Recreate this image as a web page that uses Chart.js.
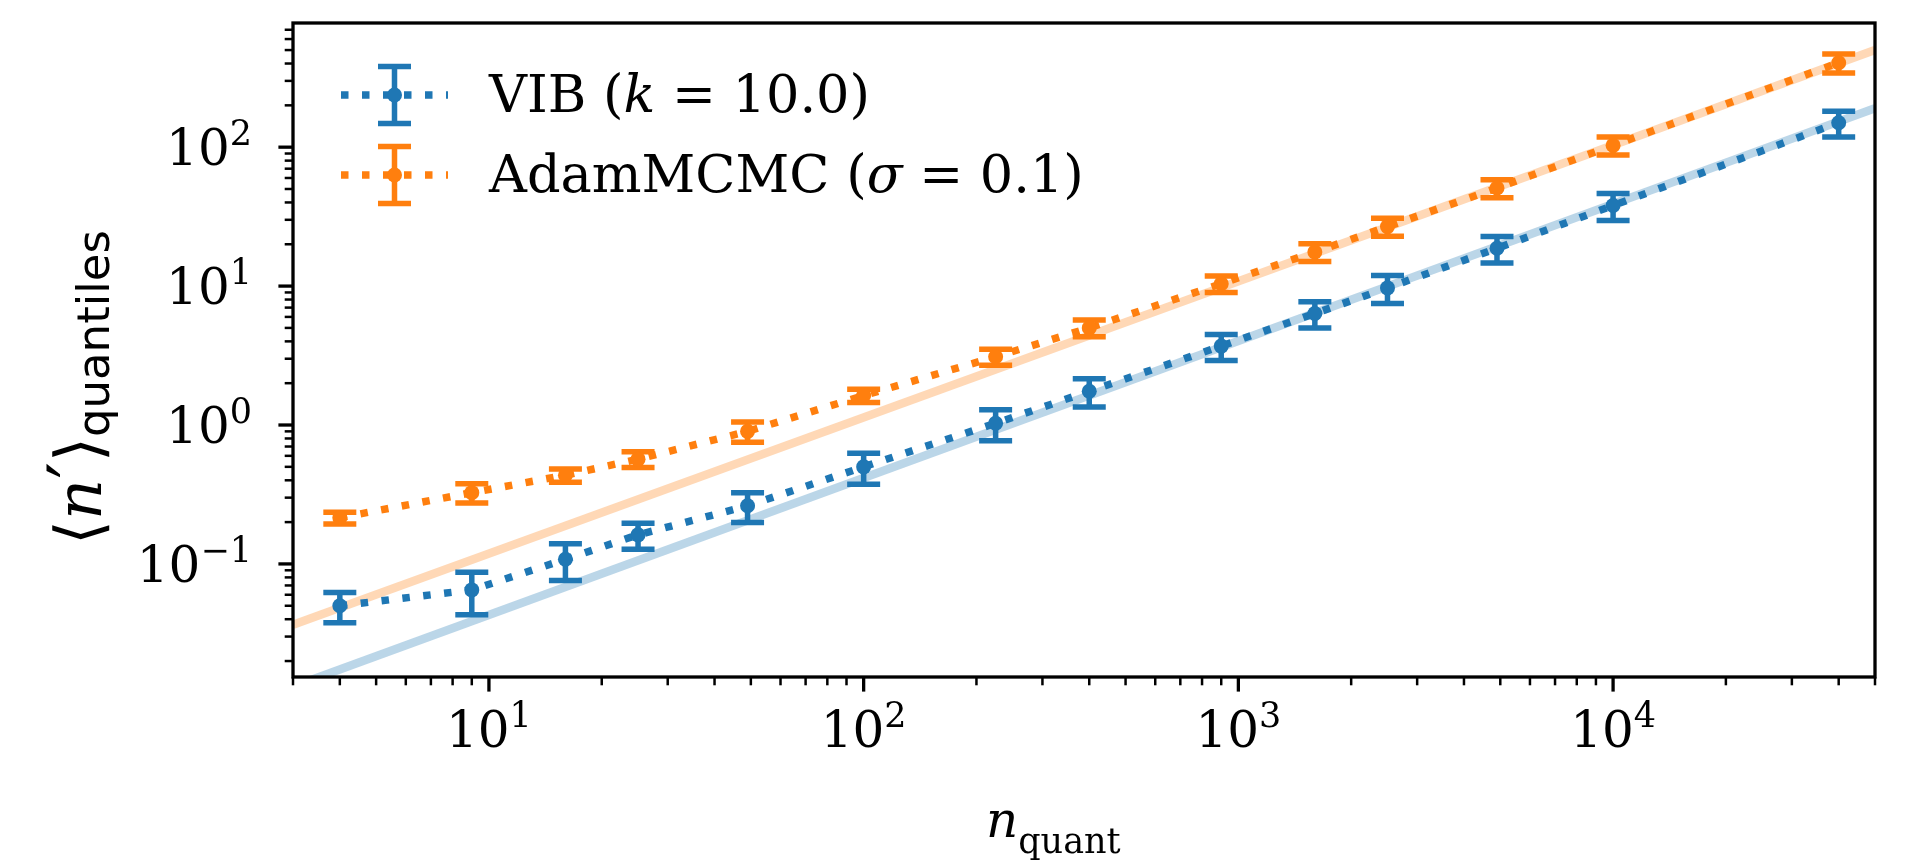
<!DOCTYPE html>
<html><head><meta charset="utf-8">
<script src="https://cdn.jsdelivr.net/npm/chart.js@4.4.1/dist/chart.umd.min.js"></script>
<style>html,body{margin:0;padding:0;background:#fff}#wrap{width:1905px;height:862px;position:relative}</style>
</head><body><div id="wrap"><canvas id="c"></canvas></div>
<script>
// ---- data ----
const nQuant   = [4, 9, 16, 25, 49, 100, 225, 400, 900, 1600, 2500, 4900, 10000, 40000];
const vibMean  = [0.050, 0.065, 0.108, 0.162, 0.262, 0.50, 1.03, 1.75, 3.7, 6.35, 9.7, 18.7, 38, 150];
const vibErr   = [0.0123, 0.022, 0.032, 0.0345, 0.063, 0.126, 0.26, 0.40, 0.79, 1.35, 2.2, 4.05, 8.3, 31.5];
const adamMean = [0.215, 0.326, 0.435, 0.568, 0.90, 1.63, 3.10, 5.0, 10.4, 17.6, 26.8, 50.8, 103, 405];
const adamErr  = [0.021, 0.052, 0.047, 0.073, 0.149, 0.178, 0.405, 0.69, 1.42, 2.55, 3.95, 7.55, 15.3, 63.5];
const fitX     = [3, 50000];
const vibFit   = [0.0131, 191];
const adamFit  = [0.0365, 501];
const xTickExps = [1, 2, 3, 4];
const yTickExps = [-1, 0, 1, 2];
const legendParts = [
  ['VIB (', 'k', ' = 10.0)'],
  ['AdamMCMC (', 'σ', ' = 0.1)']
];
const xLimits = [3, 50000];
const yLimits = [0.01535, 783];

const BLUE = '#1f77b4', ORANGE = '#ff7f0e';
const SERIF = '"DejaVu Serif", serif', SANS = '"DejaVu Sans", sans-serif';

function drawRuns(ctx, runs, x, y) {
  for (const r of runs) {
    ctx.font = r.font;
    ctx.fillText(r.text, x, y + (r.dy || 0));
    x += ctx.measureText(r.text).width;
  }
  return x;
}
function runsWidth(ctx, runs) {
  let w = 0;
  for (const r of runs) { ctx.font = r.font; w += ctx.measureText(r.text).width; }
  return w;
}
function powRuns(e) {
  const s = e < 0 ? '\u2212' + Math.abs(e) : String(e);
  return [{text: '10', font: '50px ' + SERIF}, {text: s, font: '35px ' + SERIF, dy: -20}];
}

const errorBars = {
  id: 'errorBars',
  beforeDatasetDraw(chart, args) {
    const ds = chart.data.datasets[args.index];
    if (!ds.errors) return;
    const ctx = chart.ctx, xs = chart.scales.x, ys = chart.scales.y;
    ctx.save();
    ctx.strokeStyle = ds.borderColor; ctx.lineWidth = 5.5; ctx.lineCap = 'butt'; ctx.setLineDash([]);
    ds.data.forEach((p, i) => {
      const e = ds.errors[i];
      const px = xs.getPixelForValue(p.x);
      const yT = ys.getPixelForValue(p.y + e), yB = ys.getPixelForValue(p.y - e);
      ctx.beginPath();
      ctx.moveTo(px, yT); ctx.lineTo(px, yB);
      ctx.moveTo(px - 16.5, yT); ctx.lineTo(px + 16.5, yT);
      ctx.moveTo(px - 16.5, yB); ctx.lineTo(px + 16.5, yB);
      ctx.stroke();
    });
    ctx.restore();
  }
};

const axesDeco = {
  id: 'axesDeco',
  afterDraw(chart) {
    const ctx = chart.ctx, ca = chart.chartArea, xs = chart.scales.x, ys = chart.scales.y;
    ctx.save();
    ctx.fillStyle = '#000'; ctx.strokeStyle = '#000';
    // spines
    ctx.lineWidth = 3.3;
    ctx.strokeRect(ca.left, ca.top, ca.right - ca.left, ca.bottom - ca.top);
    // x ticks
    for (let e = 0; e <= 4; e++) {
      for (let m = 1; m <= 9; m++) {
        const v = m * Math.pow(10, e);
        if (v < xLimits[0] - 1e-9 || v > xLimits[1] + 1e-9) continue;
        const px = xs.getPixelForValue(v);
        const major = m === 1;
        ctx.lineWidth = major ? 3.3 : 2.5;
        ctx.beginPath(); ctx.moveTo(px, ca.bottom); ctx.lineTo(px, ca.bottom + (major ? 14.6 : 8.3)); ctx.stroke();
      }
    }
    // y ticks
    for (let e = -2; e <= 2; e++) {
      for (let m = 1; m <= 9; m++) {
        const v = m * Math.pow(10, e);
        if (v < yLimits[0] || v > yLimits[1]) continue;
        const py = ys.getPixelForValue(v);
        const major = m === 1;
        ctx.lineWidth = major ? 3.3 : 2.5;
        ctx.beginPath(); ctx.moveTo(ca.left, py); ctx.lineTo(ca.left - (major ? 14.6 : 8.3), py); ctx.stroke();
      }
    }
    // x tick labels
    ctx.textAlign = 'left'; ctx.textBaseline = 'alphabetic';
    for (const e of xTickExps) {
      const px = xs.getPixelForValue(Math.pow(10, e));
      const runs = powRuns(e);
      const w = runsWidth(ctx, runs);
      drawRuns(ctx, runs, px - w / 2, ca.bottom + 70);
    }
    // y tick labels
    for (const e of yTickExps) {
      const py = ys.getPixelForValue(Math.pow(10, e));
      const runs = powRuns(e);
      const w = runsWidth(ctx, runs);
      drawRuns(ctx, runs, 252 - w, py + 18.2);
    }
    // x axis title
    drawRuns(ctx, [
      {text: 'n', font: 'italic 50px ' + SERIF},
      {text: 'quant', font: '35px ' + SERIF, dy: 16}
    ], 986, 837);
    // y axis title (rotated)
    ctx.save();
    ctx.translate(101, 545);
    ctx.rotate(-Math.PI / 2);
    drawRuns(ctx, [
      {text: '\u27E8', font: '64px ' + SERIF},
      {text: 'n', font: 'italic 64px ' + SERIF},
      {text: '\u2032', font: '74px ' + SERIF},
      {text: '\u27E9', font: '64px ' + SERIF},
      {text: 'quantiles', font: '45px ' + SANS, dy: 8}
    ], 0, 0);
    ctx.restore();
    // legend
    const rows = [{y: 95, base: 112, c: BLUE}, {y: 175, base: 192, c: ORANGE}];
    rows.forEach((r, i) => {
      const x0 = 341, x1 = 448, xc = (x0 + x1) / 2;
      ctx.strokeStyle = r.c; ctx.fillStyle = r.c;
      ctx.lineWidth = 7.5; ctx.setLineDash([7.5, 13.5]); ctx.lineCap = 'butt';
      ctx.beginPath(); ctx.moveTo(x0, r.y); ctx.lineTo(x1, r.y); ctx.stroke();
      ctx.setLineDash([]); ctx.lineWidth = 5.5;
      ctx.beginPath();
      ctx.moveTo(xc, r.y - 28.5); ctx.lineTo(xc, r.y + 28.5);
      ctx.moveTo(xc - 16.5, r.y - 28.5); ctx.lineTo(xc + 16.5, r.y - 28.5);
      ctx.moveTo(xc - 16.5, r.y + 28.5); ctx.lineTo(xc + 16.5, r.y + 28.5);
      ctx.stroke();
      ctx.beginPath(); ctx.arc(xc, r.y, 7.5, 0, Math.PI * 2); ctx.fill();
      ctx.fillStyle = '#000';
      const p = legendParts[i];
      drawRuns(ctx, [
        {text: p[0], font: '52.5px ' + SERIF},
        {text: p[1], font: 'italic 52.5px ' + SERIF},
        {text: p[2], font: '52.5px ' + SERIF}
      ], 489, r.base);
    });
    ctx.restore();
  }
};

const toXY = (xs, ys) => xs.map((x, i) => ({x: x, y: ys[i]}));

new Chart(document.getElementById('c'), {
  type: 'line',
  data: {
    datasets: [
      {label: 'VIB fit', data: toXY(fitX, vibFit), borderColor: 'rgba(31,119,180,0.3)', borderWidth: 8.5, pointRadius: 0, order: 4, clip: 0},
      {label: 'AdamMCMC fit', data: toXY(fitX, adamFit), borderColor: 'rgba(255,127,14,0.3)', borderWidth: 8.5, pointRadius: 0, order: 3, clip: 0},
      {label: 'VIB (k = 10.0)', data: toXY(nQuant, vibMean), errors: vibErr, borderColor: BLUE, backgroundColor: BLUE,
       borderWidth: 7.5, borderDash: [7.5, 13.5], pointRadius: 7.5, pointBackgroundColor: BLUE, pointBorderWidth: 0, order: 2},
      {label: 'AdamMCMC (σ = 0.1)', data: toXY(nQuant, adamMean), errors: adamErr, borderColor: ORANGE, backgroundColor: ORANGE,
       borderWidth: 7.5, borderDash: [7.5, 13.5], pointRadius: 7.5, pointBackgroundColor: ORANGE, pointBorderWidth: 0, order: 1}
    ]
  },
  options: {
    responsive: true, maintainAspectRatio: false, animation: false, devicePixelRatio: 1, events: [],
    layout: {padding: {left: 293, right: 30, top: 23, bottom: 185}},
    plugins: {legend: {display: false}, tooltip: {enabled: false}},
    scales: {
      x: {type: 'logarithmic', min: xLimits[0], max: xLimits[1], display: false},
      y: {type: 'logarithmic', min: yLimits[0], max: yLimits[1], display: false}
    }
  },
  plugins: [errorBars, axesDeco]
});
</script>
</body></html>
